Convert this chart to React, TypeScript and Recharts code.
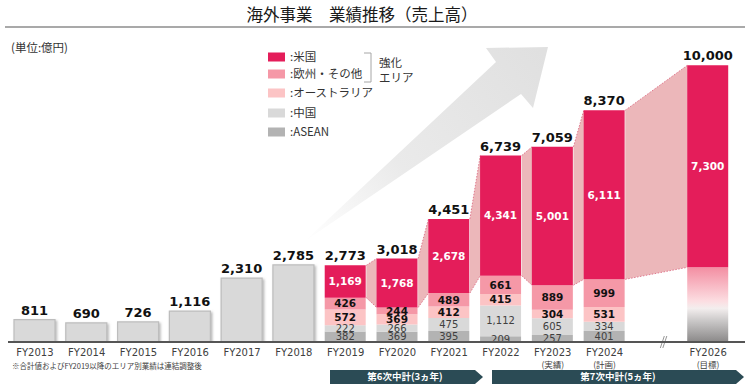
import React from "react";
import { ComposedChart, Bar, Area, XAxis, YAxis, LabelList } from "recharts";

// 億円
const categories = ["FY2013", "FY2014", "FY2015", "FY2016", "FY2017", "FY2018", "FY2019", "FY2020", "FY2021", "FY2022", "FY2023", "FY2024", "", "FY2026"];
const subLabels = ["", "", "", "", "", "", "", "", "", "", "(実績)", "(計画)", "", "(目標)"];
const totals = [811, 690, 726, 1116, 2310, 2785, 2773, 3018, 4451, 6739, 7059, 8370, null, 10000];
const before2019 = [811, 690, 726, 1116, 2310, 2785, null, null, null, null, null, null, null, null];
const asean = [null, null, null, null, null, null, 382, 369, 395, 209, 257, 401, null, null];
const china = [null, null, null, null, null, null, 222, 266, 475, 1112, 605, 334, null, null];
const australia = [null, null, null, null, null, null, 572, 369, 412, 415, 304, 531, null, null];
const europe = [null, null, null, null, null, null, 426, 244, 489, 661, 889, 999, null, null];
const usa = [null, null, null, null, null, null, 1169, 1768, 2678, 4341, 5001, 6111, null, 7300];
const targetOther = [null, null, null, null, null, null, null, null, null, null, null, null, null, 2700];

// bars joined by the pink bands (index pairs)
const links = [[6, 7], [7, 8], [8, 9], [9, 10], [10, 11], [11, 13]];

const COLORS = {
  usa: "#e41d5a",
  europe: "#f598a7",
  australia: "#fcc4c5",
  china: "#d9d9d9",
  asean: "#b3b3b3",
  plain: "#d9d9d9",
};

const legendItems = [
  { label: ":米国", color: COLORS.usa },
  { label: ":欧州・その他", color: COLORS.europe },
  { label: ":オーストラリア", color: COLORS.australia },
  { label: ":中国", color: COLORS.china },
  { label: ":ASEAN", color: COLORS.asean },
];

const NUM_FONT = "'DejaVu Sans', Verdana, sans-serif";
const JP_FONT = "'Noto Sans CJK JP', 'Noto Sans', sans-serif";
const HALF = 0.4; // half bar width in slot units

const data = categories.map((name, i) => ({
  name,
  total: totals[i],
  before: before2019[i],
  asean: asean[i],
  china: china[i],
  australia: australia[i],
  europe: europe[i],
  other: targetOther[i],
  usa: usa[i],
}));

const below = (i: number) =>
  (asean[i] ?? 0) + (china[i] ?? 0) + (australia[i] ?? 0) + (europe[i] ?? 0) + (targetOther[i] ?? 0);

const linkData = links.map(([a, b]) => [
  { pos: a + HALF, band: [below(a), below(a) + (usa[a] ?? 0)] },
  { pos: b - HALF, band: [below(b), below(b) + (usa[b] ?? 0)] },
]);

const fmt = (v: number) => v.toLocaleString("en-US");

const segLabel = (fill: string, bold: boolean, size: number) => (props: any) => {
  const { x, y, width, height, value } = props;
  if (value == null || !(Number(height) > 0)) return null;
  return (
    <text
      x={Number(x) + Number(width) / 2}
      y={Number(y) + Number(height) / 2}
      dy="0.36em"
      textAnchor="middle"
      fontFamily={NUM_FONT}
      fontWeight={bold ? "bold" : "normal"}
      fontSize={size}
      fill={fill}
    >
      {fmt(value)}
    </text>
  );
};

const totalLabel = (props: any) => {
  const { x, y, width, height, value } = props;
  if (value == null || !(Number(height) > 0)) return null;
  return (
    <text
      x={Number(x) + Number(width) / 2}
      y={Number(y) - 5}
      textAnchor="middle"
      fontFamily={NUM_FONT}
      fontWeight="bold"
      fontSize={13}
      fill="#111"
    >
      {fmt(value)}
    </text>
  );
};

function CategoryTick(props: any) {
  const { x, y, payload } = props;
  const i = payload.index;
  if (!payload.value) {
    return (
      <g stroke="#8a8a8a" strokeWidth={0.9}>
        <line x1={x + 4} y1={y + 4} x2={x + 8} y2={y - 8} />
        <line x1={x + 6.5} y1={y + 4} x2={x + 10.5} y2={y - 8} />
      </g>
    );
  }
  return (
    <g fill="#404040">
      <text x={x} y={y + 12} textAnchor="middle" fontFamily={NUM_FONT} fontSize={10}>
        {payload.value}
      </text>
      {subLabels[i] && (
        <text x={x} y={y + 24} textAnchor="middle" fontFamily={JP_FONT} fontSize={8.5}>
          {subLabels[i]}
        </text>
      )}
    </g>
  );
}

function BackArrow() {
  return (
    <svg width={750} height={388} style={{ position: "absolute", left: 0, top: 0 }}>
      <defs>
        <linearGradient id="arrowFade" gradientUnits="userSpaceOnUse" x1={540} y1={50} x2={305} y2={241}>
          <stop offset="0" stopColor="#e0e0e0" />
          <stop offset="0.6" stopColor="#eaeaea" />
          <stop offset="1" stopColor="#ffffff" />
        </linearGradient>
      </defs>
      <polygon points="548,47 486,48 496,62 305,241 521,94 533,108" fill="url(#arrowFade)" />
    </svg>
  );
}

function Frame() {
  const rows = [57, 74, 93, 113, 132];
  return (
    <svg width={750} height={388} style={{ position: "absolute", left: 0, top: 0, pointerEvents: "none" }}>
      <text x={362} y={21} textAnchor="middle" fontFamily={JP_FONT} fontSize={16.5} fill="#1a1a1a">
        海外事業　業績推移（売上高）
      </text>
      <line x1={5} y1={27} x2={745} y2={27} stroke="#8c8c8c" strokeWidth={1.5} />
      <text x={11} y={52} fontFamily={JP_FONT} fontSize={11.5} fill="#333">
        (単位:億円)
      </text>

      {legendItems.map((item, i) => (
        <g key={item.label}>
          <rect x={268} y={rows[i] - 4.5} width={17} height={9} fill={item.color} />
          <text x={290} y={rows[i]} dy="0.36em" fontFamily={JP_FONT} fontSize={11.5} fill="#333">
            {item.label}
          </text>
        </g>
      ))}
      <path d="M364 53 H371 V82 H364" fill="none" stroke="#a6a6a6" strokeWidth={1} />
      <text x={379} y={67} fontFamily={JP_FONT} fontSize={11.5} fill="#333">強化</text>
      <text x={379} y={82} fontFamily={JP_FONT} fontSize={11.5} fill="#333">エリア</text>

      <line x1={8} y1={342} x2={745} y2={342} stroke="#555" strokeWidth={2.2} />

      <text x={12} y={369} fontFamily={JP_FONT} fontSize={7.5} fill="#404040">
        ※合計値およびFY2019以降のエリア別業績は連結調整後
      </text>

      <polygon points="330,370 475,370 483,377 475,384 330,384" fill="#2b4b55" />
      <text x={405} y={377} dy="0.36em" textAnchor="middle" fontFamily={JP_FONT} fontWeight="bold" fontSize={9.5} fill="#fff">
        第6次中計(3ヵ年)
      </text>
      <polygon points="492,370 736,370 744,377 736,384 492,384" fill="#2b4b55" />
      <text x={618} y={377} dy="0.36em" textAnchor="middle" fontFamily={JP_FONT} fontWeight="bold" fontSize={9.5} fill="#fff">
        第7次中計(5ヵ年)
      </text>
    </svg>
  );
}

export default function App() {
  return (
    <div style={{ position: "relative", width: 750, height: 388, background: "#fff", overflow: "hidden" }}>
      <style>{"body{margin:0}"}</style>
      <BackArrow />
      <div style={{ position: "absolute", left: 0, top: 0 }}>
        <ComposedChart width={750} height={388} data={data} margin={{ top: 10, right: 16, bottom: 26, left: 9 }}>
          <defs>
            <linearGradient id="targetFade" x1="0" y1="0" x2="0" y2="1">
              <stop offset="0" stopColor="#f38ea2" />
              <stop offset="0.45" stopColor="#fcdde1" />
              <stop offset="0.55" stopColor="#f3eeee" />
              <stop offset="0.72" stopColor="#c9c7c7" />
              <stop offset="1" stopColor="#8a8888" />
            </linearGradient>
            <filter id="softShadow" x="-20%" y="-20%" width="140%" height="140%">
              <feDropShadow dx={1.5} dy={1.5} stdDeviation={1} floodColor="#888" floodOpacity={0.6} />
            </filter>
          </defs>
          <XAxis
            dataKey="name"
            interval={0}
            height={20}
            axisLine={false}
            tickLine={false}
            tickSize={0}
            tick={<CategoryTick />}
          />
          <XAxis xAxisId="pos" type="number" dataKey="pos" domain={[-0.5, 13.5]} allowDataOverflow hide />
          <YAxis hide domain={[0, 12000]} allowDataOverflow />

          {linkData.map((pts, k) => (
            <Area
              key={k}
              xAxisId="pos"
              data={pts}
              dataKey="band"
              type="linear"
              fill="#ecb7ba"
              fillOpacity={1}
              stroke="#e07a8f"
              strokeWidth={1}
              strokeDasharray="1.5 1.5"
              dot={false}
              activeDot={false}
              isAnimationActive={false}
            />
          ))}

          <Bar dataKey="before" stackId="s" barSize={41} fill={COLORS.plain} stroke="#bdbdbd" strokeWidth={1.2} filter="url(#softShadow)" isAnimationActive={false}>
            <LabelList dataKey="total" content={totalLabel} />
          </Bar>
          <Bar dataKey="asean" stackId="s" barSize={41} fill={COLORS.asean} isAnimationActive={false}>
            <LabelList dataKey="asean" content={segLabel("#404040", false, 10)} />
          </Bar>
          <Bar dataKey="china" stackId="s" barSize={41} fill={COLORS.china} isAnimationActive={false}>
            <LabelList dataKey="china" content={segLabel("#404040", false, 10)} />
          </Bar>
          <Bar dataKey="australia" stackId="s" barSize={41} fill={COLORS.australia} isAnimationActive={false}>
            <LabelList dataKey="australia" content={segLabel("#111", true, 10.5)} />
          </Bar>
          <Bar dataKey="europe" stackId="s" barSize={41} fill={COLORS.europe} isAnimationActive={false}>
            <LabelList dataKey="europe" content={segLabel("#111", true, 10.5)} />
          </Bar>
          <Bar dataKey="other" stackId="s" barSize={41} fill="url(#targetFade)" isAnimationActive={false} />
          <Bar dataKey="usa" stackId="s" barSize={41} fill={COLORS.usa} isAnimationActive={false}>
            <LabelList dataKey="usa" content={segLabel("#fff", true, 10.5)} />
            <LabelList dataKey="total" content={totalLabel} />
          </Bar>
        </ComposedChart>
      </div>
      <Frame />
    </div>
  );
}
